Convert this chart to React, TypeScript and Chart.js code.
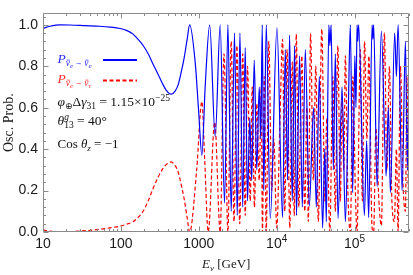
import { useEffect, useRef } from "react";
import { Chart, registerables } from "chart.js";

Chart.register(...registerables);

// P(anti-nu_e -> anti-nu_e), blue solid
const eeEnergy = [
  10, 12.3, 16.5, 22.2, 34.7, 54.1, 72.6, 97.7, 120, 143.5,
  166, 193, 224, 259, 301, 338, 381, 442, 497, 543,
  594, 649, 709, 764, 899, 997, 1096, 1208, 1381, 1625,
  1884, 2140, 2366, 2609, 2876, 3116, 3375, 3666, 3948, 4226,
  4511, 4784, 5153, 5548, 5974, 6246, 6530, 6826, 7350, 8274,
  10088, 11906, 12898, 13804, 14647, 15866, 16984, 17966, 19692, 21332,
  23313, 26239, 29801, 32281, 35279, 38884, 41515, 43398, 46734, 48275,
  50022, 53387, 56645, 61356, 69065, 76163, 82730, 88290, 94520, 100870,
  104210, 107650, 110240, 112870, 133600, 143000, 151800, 167900, 171900, 176000,
  194600, 221000, 254000, 271900, 288500, 327700, 344600, 362300, 407800, 449700,
  477000, 500000,
];
const eeProb = [
  0.983, 0.993, 1.0, 0.999, 0.996, 0.993, 0.989, 0.982, 0.972, 0.955,
  0.93, 0.9, 0.86, 0.81, 0.76, 0.72, 0.685, 0.665, 0.68, 0.71,
  0.77, 0.84, 0.93, 1.0, 0.82, 0.58, 0.37, 0.7, 1.0, 0.46,
  1.0, 0.14, 1.0, 0.1, 0.96, 0.08, 0.96, 0.12, 0.89, 0.15,
  0.55, 0.25, 0.83, 0.3, 0.7, 0.45, 1.0, 0.2, 1.0, 0.065,
  0.985, 0.07, 0.88, 0.25, 0.95, 0.15, 0.9, 0.08, 0.85, 0.12,
  0.88, 0.125, 0.6, 0.12, 0.75, 0.02, 0.4, 0.05, 1.0, 0.9,
  1.0, 0.3, 0.86, 0.065, 0.7, 0.05, 0.55, 1.0, 0.19, 0.85,
  0.6, 1.0, 0.92, 1.0, 0.08, 0.44, 0.07, 1.0, 0.93, 1.0,
  0.22, 0.97, 0.27, 0.6, 0.19, 0.96, 0.75, 1.0, 0.2, 0.92,
  0.3, 0.85,
];

// P(anti-nu_e -> anti-nu_tau), red dashed
const etEnergy = [
  10, 12.3, 16.5, 25.8, 40.2, 54.1, 72.6, 97.7, 120, 143.5,
  166, 193, 224, 259, 301, 338, 381, 442, 497, 543,
  594, 649, 709, 764, 940, 1096, 1191, 1321, 1601, 1884,
  2108, 2366, 2609, 2834, 3088, 3355, 3666, 3948, 4226, 4578,
  4855, 5184, 5548, 5974, 6339, 6568, 6928, 7350, 7915, 8649,
  9176, 10029, 10960, 11906, 12708, 13602, 14734, 15866, 16833, 17860,
  19231, 21018, 22970, 24363, 25476, 27269, 29537, 31806, 34251, 37973,
  41515, 44043, 48132, 52605, 56645, 60995, 65677, 69065, 72840, 76163,
  82000, 88290, 95070, 102380, 107650, 118700, 125940, 134400, 143900, 152700,
  167900, 176000, 187800, 205300, 221000, 241600, 260100, 280100, 301600, 324800,
  344600, 362300, 387800, 417600, 449700, 469900, 491300, 500000,
];
const etProb = [
  0.01, 0.004, 0.0, 0.003, 0.008, 0.013, 0.02, 0.028, 0.038, 0.05,
  0.07, 0.1, 0.15, 0.21, 0.265, 0.3, 0.325, 0.338, 0.32, 0.29,
  0.23, 0.16, 0.07, 0.0, 0.3, 0.63, 0.35, 0.0, 0.53, 0.0,
  0.86, 0.0, 0.92, 0.05, 0.9, 0.04, 0.86, 0.08, 0.8, 0.15,
  0.7, 0.12, 0.62, 0.25, 0.7, 0.0, 0.75, 0.0, 0.92, 0.2,
  0.45, 0.02, 0.5, 0.93, 0.1, 0.88, 0.02, 0.82, 0.08, 0.955,
  0.12, 0.85, 0.1, 0.6, 0.05, 0.955, 0.25, 0.8, 0.05, 0.98,
  0.15, 0.55, 0.0, 0.75, 0.1, 0.9, 0.15, 0.65, 0.3, 0.85,
  0.2, 0.0, 0.75, 0.2, 0.0, 0.88, 0.15, 0.92, 0.45, 0.85,
  0.02, 0.0, 0.5, 0.15, 0.03, 0.96, 0.3, 0.8, 0.15, 0.05,
  0.4, 0.0, 0.8, 0.25, 0.1, 0.75, 0.2, 0.4,
];

const xMajorTicks = [10, 100, 1000, 10000, 100000];
const xTickBase = ["10", "100", "1000", "10", "10"];
const xTickExp = ["", "", "", "4", "5"];
const yMajorTicks = [0, 0.2, 0.4, 0.6, 0.8, 1.0];

const X_MIN = 10;
const X_MAX = 500000;
const Y_MAX = 1.055;

const BLUE = "#0000ff";
const RED = "#ff0000";
const SERIF = '"Liberation Serif", "DejaVu Serif", serif';
const SANS = '"Liberation Sans", Arial, sans-serif';

type Run = { t: string; size: number; dy?: number; it?: boolean; stack?: boolean; bar?: boolean; font?: string };

function drawRuns(ctx: CanvasRenderingContext2D, runs: Run[], x: number, y: number, color: string) {
  let cx = x;
  let prevX = x;
  ctx.fillStyle = color;
  ctx.strokeStyle = color;
  ctx.textBaseline = "alphabetic";
  ctx.textAlign = "left";
  for (const r of runs) {
    ctx.font = `${r.it ? "italic " : ""}${r.size}px ${r.font || SERIF}`;
    const w = ctx.measureText(r.t).width;
    const dy = r.dy || 0;
    let sx: number;
    if (r.stack) {
      sx = prevX;
      cx = Math.max(cx, prevX + w);
    } else {
      sx = cx;
      prevX = cx;
      cx += w;
    }
    ctx.fillText(r.t, sx, y + dy);
    if (r.bar) {
      ctx.lineWidth = 0.7;
      ctx.beginPath();
      const by = y + dy - r.size * 0.62;
      ctx.moveTo(sx + 1, by);
      ctx.lineTo(sx + w - 0.2, by);
      ctx.stroke();
    }
  }
  return cx;
}

const decorPlugin = {
  id: "decor",
  afterDatasetsDraw(chart: any) {
    const { ctx, chartArea: a, scales } = chart;
    const xs = scales.x;
    const ys = scales.y;
    ctx.save();
    const L = Math.round(a.left) + 0.5;
    const R = Math.round(a.right) - 0.5;
    const T = Math.round(a.top) + 0.5;
    const B = Math.round(a.bottom) - 0.5;

    // ticks (inside the frame, all four sides)
    ctx.strokeStyle = "#8a8a8a";
    ctx.lineWidth = 1;
    ctx.beginPath();
    for (let k = 10; k <= X_MAX; k *= 10) {
      for (let m = 1; m <= 9; m++) {
        const v = k * m;
        if (v > X_MAX) break;
        const px = Math.round(xs.getPixelForValue(v)) + 0.5;
        const len = m === 1 ? 5 : 2.5;
        ctx.moveTo(px, B);
        ctx.lineTo(px, B - len);
        ctx.moveTo(px, T);
        ctx.lineTo(px, T + len);
      }
    }
    for (let i = 0; i <= 26; i++) {
      const v = i * 0.04;
      const py = Math.round(ys.getPixelForValue(v)) + 0.5;
      const len = i % 5 === 0 ? 5 : 2.5;
      ctx.moveTo(L, py);
      ctx.lineTo(L + len, py);
      ctx.moveTo(R, py);
      ctx.lineTo(R - len, py);
    }
    ctx.stroke();

    // frame
    ctx.strokeStyle = "#8a8a8a";
    ctx.beginPath();
    ctx.rect(L, T, R - L, B - T);
    ctx.stroke();

    // x tick labels
    ctx.fillStyle = "#1a1a1a";
    ctx.textBaseline = "alphabetic";
    xMajorTicks.forEach((v, i) => {
      const px = xs.getPixelForValue(v);
      ctx.font = `14px ${SANS}`;
      const wb = ctx.measureText(xTickBase[i]).width;
      ctx.font = `10px ${SANS}`;
      const we = xTickExp[i] ? ctx.measureText(xTickExp[i]).width : 0;
      const x0 = px - (wb + we) / 2;
      ctx.font = `14px ${SANS}`;
      ctx.textAlign = "left";
      ctx.fillText(xTickBase[i], x0, 248);
      if (xTickExp[i]) {
        ctx.font = `10px ${SANS}`;
        ctx.fillText(xTickExp[i], x0 + wb, 242);
      }
    });

    // axis titles
    ctx.save();
    ctx.translate(9, (a.top + a.bottom) / 2);
    ctx.rotate(-Math.PI / 2);
    ctx.font = `14px ${SERIF}`;
    ctx.textAlign = "center";
    ctx.textBaseline = "middle";
    ctx.fillStyle = "#1a1a1a";
    ctx.fillText("Osc. Prob.", 0, 0);
    ctx.restore();

    const xTitle: Run[] = [
      { t: "E", size: 13, it: true },
      { t: "ν", size: 9, it: true, dy: 3 },
      { t: " [GeV]", size: 13 },
    ];
    const tw = 48;
    drawRuns(ctx, xTitle, (a.left + a.right) / 2 - tw / 2, 268, "#1a1a1a");

    // legend
    const lx = 57.5;
    drawRuns(
      ctx,
      [
        { t: "P", size: 13.5, it: true },
        { t: "ν", size: 9.5, it: true, dy: 3, bar: true },
        { t: "e", size: 7, it: true, dy: 5 },
        { t: " → ", size: 7.5, dy: 2 },
        { t: "ν", size: 9.5, it: true, dy: 3, bar: true },
        { t: "e", size: 7, it: true, dy: 5 },
      ],
      lx,
      63,
      "#2a2aff"
    );
    drawRuns(
      ctx,
      [
        { t: "P", size: 13.5, it: true },
        { t: "ν", size: 9.5, it: true, dy: 3, bar: true },
        { t: "e", size: 7, it: true, dy: 5 },
        { t: " → ", size: 7.5, dy: 2 },
        { t: "ν", size: 9.5, it: true, dy: 3, bar: true },
        { t: "τ", size: 7, it: true, dy: 5 },
      ],
      lx,
      83,
      "#ff2a2a"
    );
    ctx.lineWidth = 1.8;
    ctx.strokeStyle = BLUE;
    ctx.setLineDash([]);
    ctx.beginPath();
    ctx.moveTo(103, 60);
    ctx.lineTo(137, 60);
    ctx.stroke();
    ctx.strokeStyle = RED;
    ctx.setLineDash([4, 2.5]);
    ctx.beginPath();
    ctx.moveTo(103, 80.5);
    ctx.lineTo(137, 80.5);
    ctx.stroke();
    ctx.setLineDash([]);

    const tc = "#111111";
    drawRuns(
      ctx,
      [
        { t: "φ", size: 13.5, it: true },
        { t: "⊕", size: 9, dy: 3, font: '"DejaVu Sans", sans-serif' },
        { t: "Δ", size: 13.5 },
        { t: "γ", size: 13.5, it: true },
        { t: "31", size: 9.5, dy: 3 },
        { t: " = 1.15×10", size: 13.5 },
        { t: "−25", size: 9.5, dy: -5 },
      ],
      lx,
      106,
      tc
    );
    drawRuns(
      ctx,
      [
        { t: "θ", size: 13.5, it: true },
        { t: "g", size: 9.5, it: true, dy: -5 },
        { t: "13", size: 9.5, dy: 3, stack: true },
        { t: " = 40°", size: 13.5 },
      ],
      lx,
      125,
      tc
    );
    drawRuns(
      ctx,
      [
        { t: "Cos ", size: 13 },
        { t: "θ", size: 13, it: true },
        { t: "z", size: 9, it: true, dy: 3 },
        { t: " = −1", size: 13 },
      ],
      lx,
      148,
      tc
    );

    ctx.restore();
  },
};

export default function App() {
  const ref = useRef<HTMLCanvasElement>(null);
  useEffect(() => {
    const canvas = ref.current!;
    const chart = new Chart(canvas, {
      type: "line",
      data: {
        datasets: [
          {
            label: "ee",
            data: eeEnergy.map((x, i) => ({ x, y: eeProb[i] })),
            borderColor: BLUE,
            borderWidth: 1.2,
            pointRadius: 0,
            cubicInterpolationMode: "monotone",
            fill: false,
          },
          {
            label: "et",
            data: etEnergy.map((x, i) => ({ x, y: etProb[i] })),
            borderColor: RED,
            borderWidth: 1.2,
            borderDash: [4, 2.5],
            pointRadius: 0,
            cubicInterpolationMode: "monotone",
            fill: false,
          },
        ],
      },
      options: {
        responsive: false,
        animation: false,
        devicePixelRatio: 1,
        layout: { padding: { top: 5, right: 4, left: 0, bottom: 0 } },
        plugins: { legend: { display: false }, tooltip: { enabled: false } },
        scales: {
          x: {
            type: "logarithmic",
            min: X_MIN,
            max: X_MAX,
            grid: { display: false },
            border: { display: false },
            ticks: { display: false },
            afterFit: (s: any) => {
              s.height = 43;
            },
          },
          y: {
            type: "linear",
            min: 0,
            max: Y_MAX,
            grid: { display: false, drawTicks: false },
            border: { display: false },
            ticks: {
              stepSize: 0.2,
              includeBounds: false,
              padding: 5,
              color: "#1a1a1a",
              font: { family: SANS, size: 14 },
              callback: (v: any) => {
                const n = Number(v);
                return yMajorTicks.some((t) => Math.abs(t - n) < 1e-6) ? n.toFixed(1) : "";
              },
            },
            afterFit: (s: any) => {
              s.width = 43;
            },
          },
        },
      } as any,
      plugins: [decorPlugin],
    });
    return () => chart.destroy();
  }, []);
  return (
    <div style={{ position: "absolute", left: 0, top: 0, width: 413, height: 275, background: "#fff" }}>
      <canvas ref={ref} width={413} height={275} style={{ display: "block" }} />
    </div>
  );
}
